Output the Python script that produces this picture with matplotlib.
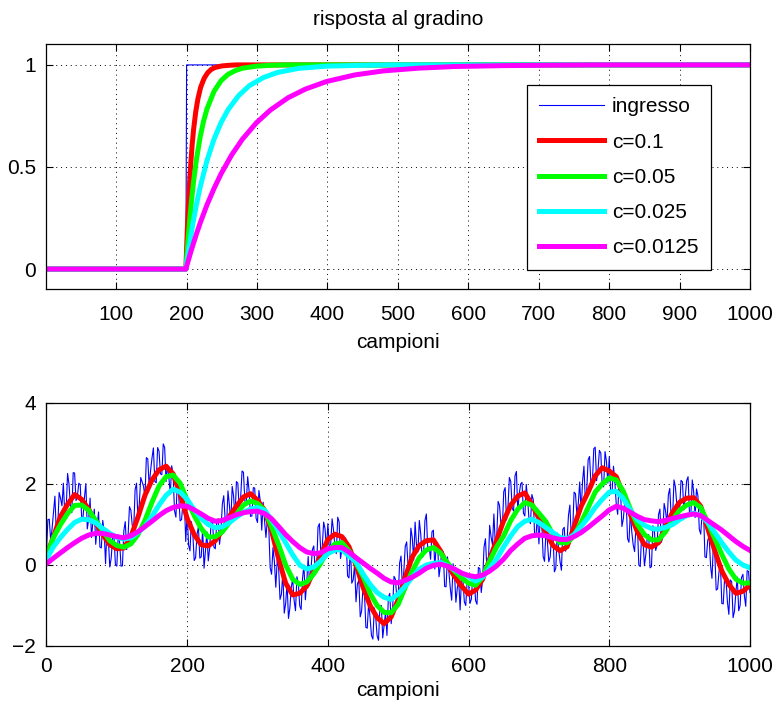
import numpy as np
import matplotlib
matplotlib.use("Agg")
import matplotlib.pyplot as plt

# ---- top panel: step response ----
step_x = [1, 199, 200, 1000]
step_y = [0, 0, 1, 1]

c01_x = [1, 199, 200, 201, 202, 203, 204, 206, 208, 210, 213, 216, 220, 225, 230, 235, 240, 250, 260, 270, 1000]
c01_y = [0, 0, 0.1, 0.19, 0.271, 0.344, 0.41, 0.522, 0.613, 0.686, 0.771, 0.833, 0.891, 0.935, 0.962, 0.978,
         0.987, 0.995, 0.998, 1.0, 1.0]

c005_x = [1, 199, 200, 201, 202, 204, 207, 210, 214, 219, 224, 229, 239, 249, 259, 269, 279, 299, 319, 340, 1000]
c005_y = [0, 0, 0.05, 0.0975, 0.143, 0.226, 0.337, 0.431, 0.537, 0.642, 0.723, 0.785, 0.871, 0.923, 0.954,
          0.972, 0.9835, 0.994, 0.998, 1.0, 1.0]

c0025_x = [1, 199, 200, 201, 203, 206, 209, 214, 219, 229, 239, 249, 259, 274, 289, 309, 329, 359, 399, 449, 487, 1000]
c0025_y = [0, 0, 0.025, 0.049, 0.096, 0.162, 0.224, 0.316, 0.398, 0.532, 0.637, 0.718, 0.781, 0.850, 0.898,
           0.938, 0.963, 0.983, 0.994, 0.998, 1.0, 1.0]

c00125_x = [1, 199, 200, 202, 205, 209, 214, 219, 229, 239, 249, 264, 279, 299, 319, 344, 369, 399, 439, 479,
            529, 579, 649, 719, 777, 1000]
c00125_y = [0, 0, 0.0125, 0.037, 0.073, 0.118, 0.172, 0.223, 0.315, 0.395, 0.467, 0.559, 0.635, 0.716, 0.779,
            0.839, 0.882, 0.919, 0.951, 0.9705, 0.984, 0.992, 0.9965, 0.9986, 1.0, 1.0]

# ---- bottom panel: noisy input (every 2 samples) and filtered outputs (every 10 samples) ----
noisy_n = np.arange(0, 1001, 2)
noisy = [
    # 0 - 98
    0.30, 1.12, 1.13, 0.59, 0.90, 1.30, 1.70, 0.79, 0.93, 1.79, 1.65, 1.46, 2.02, 1.27, 1.37, 2.26, 2.00, 1.47,
    1.29, 2.28, 2.27, 1.59, 1.71, 2.02, 1.98, 1.18, 1.18, 1.67, 2.01, 0.89, 1.12, 1.65, 0.68, 1.06, 1.38, 0.51,
    0.93, 1.31, 0.44, 0.42, 1.10, 0.84, 0.03, 0.88, 0.63, -0.05, 0.17, 0.66, 0.70, 0.01,
    # 100 - 198
    -0.03, 0.74, 0.56, -0.03, -0.02, 0.85, 1.07, 0.38, 0.73, 1.44, 1.35, 0.97, 0.89, 1.86, 2.02, 1.15, 1.52, 2.16,
    2.05, 1.94, 1.67, 2.65, 2.62, 1.93, 2.33, 2.64, 2.89, 2.06, 2.03, 2.90, 2.81, 2.25, 2.23, 2.99, 2.90, 2.06,
    2.46, 2.16, 1.75, 2.45, 2.25, 1.34, 1.18, 2.07, 1.70, 1.09, 1.12, 1.52, 1.57, 0.58,
    # 200 - 298
    1.28, 0.49, 0.35, 1.07, 0.79, 0.11, 0.18, 0.76, 0.94, 0.17, 0.20, 0.91, -0.08, 0.35, 0.82, 0.10, 0.42, 1.05,
    1.12, 0.44, 0.40, 1.07, 1.14, 0.51, 0.83, 1.50, 1.71, 1.12, 0.97, 1.83, 1.48, 1.04, 1.94, 1.70, 1.15, 2.06,
    2.02, 1.39, 1.65, 2.32, 2.29, 1.58, 1.52, 2.18, 1.84, 1.20, 1.21, 1.91, 1.90, 1.15,
    # 300 - 398
    1.05, 1.84, 1.57, 0.86, 1.55, 1.09, 0.68, 1.13, 0.93, -0.07, -0.23, 0.43, 0.08, -0.55, 0.12, -0.07, -0.85,
    -0.72, -0.18, -1.19, -0.95, -0.44, -1.32, -1.06, -0.55, -0.34, -0.87, -1.13, -0.29, -0.45, -1.01, -1.10,
    -0.33, 0.00, -0.86, -0.43, 0.21, -0.50, -0.11, 0.38, 0.47, -0.19, -0.10, 0.94, 1.02, 0.30, 0.43, 1.06,
    0.89, 0.38,
    # 400 - 498
    1.02, 0.44, 0.50, 1.14, 0.87, 0.45, 0.28, 1.18, 1.07, 0.16, 0.40, 0.67, 0.68, 0.63, -0.27, -0.32, 0.47, -0.45,
    -0.37, 0.01, -0.91, -0.47, -0.38, -1.28, -1.13, -0.53, -0.67, -1.54, -1.56, -0.93, -1.30, -1.74, -1.83,
    -1.06, -1.29, -1.75, -1.86, -1.03, -1.00, -1.80, -1.47, -1.16, -1.74, -0.80, -0.70, -1.45, -1.10, -0.28,
    -0.35, -0.81,
    # 500 - 598
    -0.76, 0.05, 0.22, -0.57, -0.15, 0.46, 0.57, -0.01, -0.05, 0.91, 0.67, 0.12, 1.06, 0.49, 0.32, 1.10, 0.77,
    0.18, 0.24, 1.10, 1.26, 0.38, 0.45, 0.14, 0.82, 0.86, -0.10, 0.52, 0.49, -0.29, -0.02, 0.36, 0.33, -0.53,
    -0.54, 0.20, -0.16, -0.57, -0.87, 0.03, -0.22, -0.92, -0.57, -0.37, -1.11, -0.32, -0.37, -0.91, -1.00, -0.40,
    # 600 - 698
    -0.45, -0.95, -0.84, -0.24, -0.34, -0.88, -0.97, -0.06, -0.09, -0.68, -0.37, 0.44, 0.65, -0.09, -0.03, 0.98,
    0.69, 0.50, 1.26, 0.52, 0.67, 1.57, 1.47, 1.01, 0.90, 1.81, 1.91, 1.11, 1.41, 2.16, 2.06, 1.40, 1.33, 2.20,
    2.31, 1.33, 1.75, 2.00, 2.04, 1.28, 1.21, 1.99, 1.62, 1.10, 1.02, 1.74, 1.61, 0.68, 0.75, 1.26,
    # 700 - 798
    0.52, 1.20, 1.08, 0.21, 0.09, 0.82, 0.60, 0.08, 0.20, 0.72, 0.78, -0.17, -0.08, 0.79, 0.41, 0.09, -0.13,
    0.88, 0.93, 0.34, 0.60, 1.22, 1.48, 0.69, 0.84, 1.80, 1.76, 1.24, 1.52, 2.05, 1.32, 2.06, 2.44, 1.58, 1.86,
    2.60, 2.68, 1.98, 2.03, 2.87, 2.91, 2.08, 2.35, 2.83, 2.76, 1.95, 1.93, 2.80, 2.56, 2.02,
    # 800 - 898
    2.67, 1.76, 1.79, 2.44, 2.03, 1.49, 1.25, 2.10, 1.85, 0.95, 1.14, 1.54, 1.59, 0.65, 0.56, 1.32, 0.82, 0.50,
    0.33, 0.96, 0.99, 0.00, -0.04, 0.75, 0.59, -0.02, 0.26, 0.68, 0.75, -0.07, -0.04, 0.97, 0.87, 0.36, 0.49,
    1.24, 1.38, 0.56, 0.69, 1.52, 1.34, 1.01, 1.73, 1.89, 1.19, 1.15, 2.10, 1.93, 1.50, 1.24,
    # 900 - 1000
    1.37, 2.09, 2.05, 1.36, 1.67, 2.08, 2.18, 1.29, 1.25, 2.10, 1.80, 1.17, 1.88, 1.71, 0.88, 0.76, 1.29, 1.32,
    0.20, 0.18, 0.61, 0.70, -0.02, -0.33, 0.50, 0.29, -0.62, -0.59, -0.16, 0.02, -0.95, -0.96, -0.32, -0.37,
    -0.92, -1.22, -0.37, -0.41, -1.30, -1.14, -0.67, -0.30, -1.13, -1.00, -0.31, -0.23, -0.75, -1.02, -0.14,
    -0.16, -0.68,
]

filt_n = np.arange(0, 1001, 10)
out_c01 = [
    0.22, 0.70, 1.20, 1.50, 1.74, 1.62, 1.38, 1.04, 0.75, 0.50,
    0.40, 0.42, 0.70, 1.18, 1.72, 2.10, 2.35, 2.44, 2.25, 1.75,
    1.15, 0.75, 0.50, 0.47, 0.60, 0.85, 1.20, 1.45, 1.68, 1.76,
    1.60, 1.35, 0.84, 0.15, -0.45, -0.74, -0.70, -0.52, -0.15, 0.25,
    0.63, 0.76, 0.70, 0.45, 0.00, -0.55, -1.00, -1.30, -1.45, -1.28,
    -0.85, -0.30, 0.20, 0.48, 0.60, 0.62, 0.35, 0.00, -0.28, -0.52,
    -0.72, -0.62, -0.35, 0.15, 0.62, 1.10, 1.48, 1.70, 1.78, 1.50,
    1.15, 0.80, 0.48, 0.35, 0.45, 0.95, 1.45, 1.80, 2.20, 2.40,
    2.32, 2.18, 1.72, 1.25, 0.82, 0.50, 0.44, 0.55, 0.95, 1.30,
    1.55, 1.65, 1.66, 1.45, 0.90, 0.35, -0.15, -0.48, -0.70, -0.65,
    -0.50,
]
out_c005 = [
    0.20, 0.68, 1.00, 1.27, 1.47, 1.48, 1.35, 1.10, 0.85, 0.60,
    0.48, 0.44, 0.52, 0.75, 1.10, 1.55, 1.95, 2.18, 2.22, 2.02,
    1.60, 1.22, 0.90, 0.69, 0.70, 0.82, 1.05, 1.25, 1.48, 1.58,
    1.52, 1.35, 0.95, 0.50, 0.00, -0.35, -0.48, -0.42, -0.22, 0.05,
    0.35, 0.52, 0.55, 0.35, 0.05, -0.28, -0.70, -1.00, -1.17, -1.18,
    -0.97, -0.55, -0.15, 0.18, 0.37, 0.43, 0.30, 0.05, -0.15, -0.32,
    -0.45, -0.50, -0.30, 0.10, 0.45, 0.72, 1.10, 1.38, 1.54, 1.48,
    1.28, 1.07, 0.75, 0.55, 0.55, 0.72, 1.05, 1.42, 1.80, 2.00,
    2.15, 2.10, 1.82, 1.38, 1.00, 0.75, 0.62, 0.62, 0.82, 1.12,
    1.35, 1.48, 1.54, 1.42, 1.05, 0.65, 0.26, -0.10, -0.35, -0.45,
    -0.44,
]
out_c0025 = [
    0.15, 0.45, 0.68, 0.88, 1.05, 1.13, 1.12, 1.04, 0.90, 0.78,
    0.68, 0.64, 0.67, 0.80, 0.95, 1.20, 1.48, 1.72, 1.87, 1.80,
    1.62, 1.36, 1.15, 1.00, 0.92, 0.94, 1.05, 1.18, 1.30, 1.38,
    1.42, 1.35, 1.12, 0.85, 0.55, 0.25, 0.00, -0.10, -0.05, 0.10,
    0.28, 0.37, 0.38, 0.22, 0.08, -0.22, -0.48, -0.68, -0.80, -0.85,
    -0.72, -0.52, -0.30, -0.10, 0.00, 0.04, 0.06, -0.02, -0.12, -0.20,
    -0.28, -0.40, -0.30, -0.08, 0.15, 0.45, 0.72, 0.95, 1.08, 1.13,
    1.05, 0.92, 0.80, 0.68, 0.64, 0.75, 0.95, 1.17, 1.42, 1.62,
    1.80, 1.82, 1.64, 1.35, 1.12, 0.98, 0.90, 0.88, 0.93, 1.00,
    1.12, 1.22, 1.28, 1.22, 1.05, 0.80, 0.55, 0.32, 0.12, 0.00,
    -0.07,
]
out_c00125 = [
    0.03, 0.17, 0.30, 0.43, 0.55, 0.66, 0.74, 0.78, 0.78, 0.74,
    0.70, 0.67, 0.72, 0.82, 0.95, 1.08, 1.22, 1.34, 1.42, 1.46,
    1.45, 1.36, 1.26, 1.15, 1.08, 1.10, 1.17, 1.24, 1.29, 1.32,
    1.33, 1.27, 1.14, 0.95, 0.75, 0.58, 0.43, 0.32, 0.28, 0.30,
    0.40, 0.43, 0.43, 0.32, 0.18, 0.05, -0.08, -0.20, -0.33, -0.42,
    -0.44, -0.38, -0.30, -0.20, -0.08, -0.01, 0.02, -0.03, -0.10, -0.20,
    -0.26, -0.29, -0.25, -0.15, -0.02, 0.15, 0.36, 0.52, 0.66, 0.72,
    0.74, 0.72, 0.67, 0.63, 0.63, 0.70, 0.80, 0.93, 1.07, 1.21,
    1.36, 1.45, 1.40, 1.30, 1.20, 1.12, 1.09, 1.07, 1.10, 1.15,
    1.19, 1.23, 1.26, 1.22, 1.10, 0.98, 0.86, 0.72, 0.58, 0.46,
    0.36,
]

labels = ["ingresso", "c=0.1", "c=0.05", "c=0.025", "c=0.0125"]
colors = ["#0000ff", "#ff0000", "#00ff00", "#00ffff", "#ff00ff"]

plt.rcParams["font.family"] = ["Liberation Sans", "DejaVu Sans"]
plt.rcParams["font.size"] = 15


def style(ax, xpad):
    ax.tick_params(direction="in", top=True, right=True, length=5, width=0.8)
    ax.tick_params(axis="x", pad=xpad)
    ax.tick_params(axis="y", pad=7.5)
    ax.grid(True, linestyle=(0, (1, 4)), color="k", linewidth=0.7)
    for s in ax.spines.values():
        s.set_linewidth(0.9)


fig = plt.figure(figsize=(7.77, 7.13), dpi=100)
ax1 = fig.add_axes([0.0598, 0.594, 0.9054, 0.3436])
ax2 = fig.add_axes([0.0598, 0.094, 0.9054, 0.3408])

# top
thick = 3.6
ax1.plot(step_x, step_y, color=colors[0], lw=0.8, label=labels[0])
ax1.plot(c01_x, c01_y, color=colors[1], lw=thick, label=labels[1])
ax1.plot(c005_x, c005_y, color=colors[2], lw=thick, label=labels[2])
ax1.plot(c0025_x, c0025_y, color=colors[3], lw=thick, label=labels[3])
ax1.plot(c00125_x, c00125_y, color=colors[4], lw=thick, label=labels[4])
ax1.set_xlim(1, 1000)
ax1.set_ylim(-0.1, 1.1)
ax1.set_xticks(range(100, 1001, 100))
ax1.set_yticks([0, 0.5, 1])
ax1.set_yticklabels(["0", "0.5", "1"])
ax1.set_xlabel("campioni", labelpad=7)
ax1.set_title("risposta al gradino", fontsize=15, pad=14)
style(ax1, 11)
leg = ax1.legend(loc="upper right", bbox_to_anchor=(0.9446, 0.835), borderaxespad=0,
                 fancybox=False, edgecolor="k", framealpha=1, handlelength=3.1,
                 labelspacing=0.78, borderpad=0.6, handletextpad=0.4)
leg.get_frame().set_linewidth(0.9)

# bottom
ax2.plot(noisy_n, noisy, color=colors[0], lw=0.8)
ax2.plot(filt_n, out_c01, color=colors[1], lw=thick)
ax2.plot(filt_n, out_c005, color=colors[2], lw=thick)
ax2.plot(filt_n, out_c0025, color=colors[3], lw=thick)
ax2.plot(filt_n, out_c00125, color=colors[4], lw=thick)
ax2.set_xlim(0, 1000)
ax2.set_ylim(-2, 4)
ax2.set_xticks(range(0, 1001, 200))
ax2.set_yticks([-2, 0, 2, 4])
ax2.set_xlabel("campioni", labelpad=3.5)
style(ax2, 8)

fig.savefig("out.png", dpi=100)
